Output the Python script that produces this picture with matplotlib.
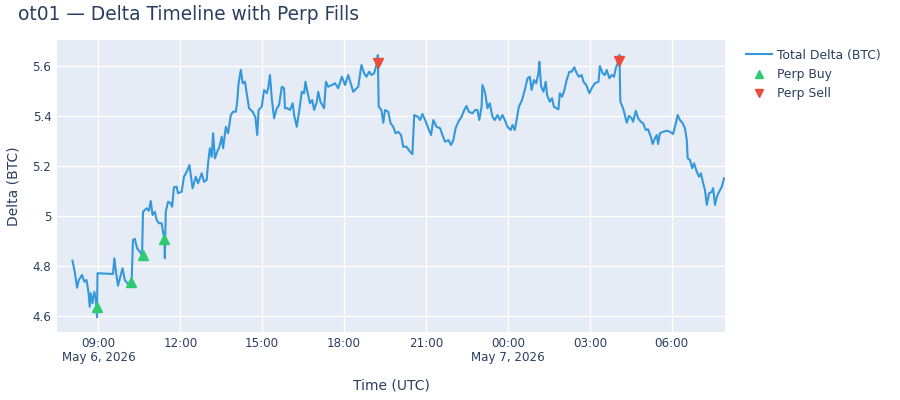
import pandas as pd
import matplotlib
matplotlib.use("Agg")
import matplotlib.pyplot as plt
import matplotlib.dates as mdates
from matplotlib.ticker import FuncFormatter

# minutes after 2026-05-06 08:00 UTC, and total delta (BTC)
delta_min = [3, 8, 13, 17, 24, 29, 34, 38, 41, 43, 47, 51, 54, 57, 58, 92, 95, 99, 103, 113,
             118, 125, 133, 136, 140, 145, 151, 156, 158, 166, 171, 175, 179, 184, 188, 193, 199, 202, 205, 206,
             208, 213, 219, 222, 226, 232, 235, 243, 248, 254, 260, 267, 274, 279, 287, 292, 298, 301,
             305, 309, 312, 316, 321, 326, 331, 334, 340, 345, 351, 356, 362, 365, 368, 373, 377, 382,
             386, 391, 399, 405, 409, 412, 419, 424, 430, 433, 437, 441, 446, 452, 457, 463, 468, 470,
             475, 481, 487, 490, 496, 501, 507, 512, 515, 520, 525, 530, 534, 540, 543, 548, 556, 560,
             565, 573, 580, 587, 595, 602, 609, 620, 631, 638, 644, 649, 655, 660, 666, 671, 674, 676,
             682, 686, 690, 697, 702, 708, 713, 719, 725, 730, 737, 745, 750, 754, 762, 767, 772, 778,
             784, 791, 796, 803, 811, 816, 822, 829, 835, 840, 845, 851, 858, 864, 869, 874, 882, 888,
             893, 897, 902, 904, 910, 915, 920, 926, 931, 937, 942, 948, 953, 959, 966, 970, 975, 979,
             984, 991, 997, 1003, 1008, 1012, 1017, 1022, 1027, 1029, 1033, 1038, 1043, 1046, 1052, 1057,
             1061, 1067, 1071, 1074, 1079, 1084, 1089, 1095, 1100, 1106, 1111, 1116, 1122, 1126, 1132,
             1139, 1144, 1151, 1159, 1162, 1168, 1173, 1177, 1183, 1188, 1193, 1197, 1201, 1205, 1207,
             1213, 1217, 1221, 1226, 1232, 1235, 1241, 1246, 1252, 1257, 1263, 1268, 1274, 1278, 1283,
             1287, 1290, 1294, 1301, 1309, 1316, 1323, 1329, 1333, 1338, 1344, 1349, 1353, 1355, 1360,
             1365, 1369, 1375, 1380, 1384, 1389, 1393, 1397, 1402, 1408, 1411, 1415, 1419, 1424, 1430, 1435]
delta_btc = [4.821, 4.777, 4.713, 4.744, 4.764, 4.737, 4.744, 4.697, 4.637, 4.691, 4.651, 4.697, 4.671, 4.595, 4.771, 4.768, 4.831, 4.771, 4.721, 4.791,
             4.744, 4.728, 4.737, 4.904, 4.909, 4.871, 4.857, 4.844, 5.017, 5.031, 5.021, 5.060, 5.004, 5.017, 4.984, 4.971, 4.971, 4.937, 4.907, 4.831,
             5.017, 5.057, 5.051, 5.037, 5.115, 5.117, 5.091, 5.097, 5.157, 5.177, 5.204, 5.111, 5.157, 5.131, 5.171, 5.137, 5.144, 5.211,
             5.271, 5.237, 5.331, 5.231, 5.257, 5.277, 5.317, 5.271, 5.357, 5.331, 5.404, 5.417, 5.417, 5.457, 5.531, 5.584, 5.531, 5.537,
             5.491, 5.431, 5.417, 5.395, 5.324, 5.424, 5.437, 5.504, 5.491, 5.511, 5.564, 5.471, 5.391, 5.431, 5.444, 5.517, 5.511, 5.431,
             5.431, 5.424, 5.451, 5.404, 5.357, 5.417, 5.497, 5.491, 5.537, 5.491, 5.451, 5.464, 5.424, 5.457, 5.497, 5.457, 5.431, 5.537,
             5.517, 5.524, 5.531, 5.511, 5.557, 5.524, 5.564, 5.497, 5.517, 5.604, 5.571, 5.557, 5.577, 5.564, 5.571, 5.604, 5.644, 5.437,
             5.424, 5.373, 5.424, 5.417, 5.371, 5.357, 5.331, 5.337, 5.324, 5.277, 5.277, 5.257, 5.247, 5.404, 5.397, 5.384, 5.408, 5.384,
             5.355, 5.324, 5.384, 5.357, 5.351, 5.324, 5.297, 5.304, 5.284, 5.304, 5.351, 5.377, 5.397, 5.424, 5.440, 5.417, 5.411, 5.424,
             5.424, 5.384, 5.437, 5.524, 5.491, 5.431, 5.451, 5.397, 5.384, 5.404, 5.384, 5.404, 5.384, 5.357, 5.344, 5.364, 5.344, 5.384,
             5.437, 5.464, 5.504, 5.551, 5.557, 5.504, 5.544, 5.531, 5.571, 5.617, 5.517, 5.497, 5.537, 5.484, 5.457, 5.471,
             5.437, 5.431, 5.427, 5.491, 5.477, 5.504, 5.544, 5.577, 5.577, 5.595, 5.571, 5.557, 5.564, 5.537, 5.524,
             5.491, 5.511, 5.531, 5.537, 5.600, 5.571, 5.564, 5.584, 5.551, 5.564, 5.557, 5.591, 5.611, 5.644, 5.457,
             5.431, 5.404, 5.373, 5.400, 5.391, 5.377, 5.421, 5.391, 5.377, 5.371, 5.344, 5.347, 5.317, 5.288, 5.311,
             5.324, 5.288, 5.331, 5.337, 5.341, 5.337, 5.328, 5.371, 5.404, 5.384, 5.371, 5.351, 5.304, 5.231, 5.224,
             5.191, 5.211, 5.177, 5.157, 5.171, 5.131, 5.104, 5.044, 5.091, 5.097, 5.111, 5.044, 5.077, 5.097, 5.117, 5.151]

buy_min = [56, 132, 157, 205]
buy_delta = [4.635, 4.737, 4.843, 4.907]
sell_min = [675, 1205]
sell_delta = [5.611, 5.621]

base = pd.Timestamp("2026-05-06 08:00")
def to_time(mins):
    return base + pd.to_timedelta(mins, unit="m")

plt.rcParams["font.family"] = ["DejaVu Sans"]
text_col = "#2a3f5f"

fig = plt.figure(figsize=(9, 4), dpi=100)
ax = fig.add_axes([57 / 900, 1 - 332 / 400, 668 / 900, 292 / 400])
ax.set_facecolor("#E5ECF6")
for s in ax.spines.values():
    s.set_visible(False)
ax.grid(True, color="white", linewidth=1)
ax.set_axisbelow(True)

ax.plot(to_time(delta_min), delta_btc, color="#3498db", linewidth=1.5, label="Total Delta (BTC)", zorder=2)
ax.plot(to_time(buy_min), buy_delta, linestyle="none", marker="^", markersize=7,
        color="#2ecc71", label="Perp Buy", zorder=3)
ax.plot(to_time(sell_min), sell_delta, linestyle="none", marker="v", markersize=7,
        color="#e74c3c", label="Perp Sell", zorder=3)

ax.set_xlim(to_time(-31), to_time(1437))
ax.set_ylim(4.536, 5.704)
ax.set_yticks([4.6, 4.8, 5.0, 5.2, 5.4, 5.6])
ax.yaxis.set_major_formatter(FuncFormatter(lambda v, p: f"{v:g}"))

ax.xaxis.set_major_locator(mdates.HourLocator(byhour=range(0, 24, 3)))
def fmt_time(x, pos):
    d = mdates.num2date(x)
    lab = d.strftime("%H:%M")
    if pos == 0 or d.hour == 0:
        lab += "\n" + d.strftime("%b ") + str(d.day) + d.strftime(", %Y")
    return lab
ax.xaxis.set_major_formatter(FuncFormatter(fmt_time))

ax.tick_params(length=0, labelsize=8.6, colors=text_col)
ax.tick_params(axis="x", pad=3.5)
ax.tick_params(axis="y", pad=4)
for lab in ax.get_xticklabels():
    lab.set_linespacing(1.15)

ax.set_xlabel("Time (UTC)", fontsize=10, color=text_col, labelpad=10)
ax.set_ylabel("Delta (BTC)", fontsize=10, color=text_col, labelpad=9)
fig.text(18 / 900, 1 - 14 / 400, "ot01 — Delta Timeline with Perp Fills", fontsize=13.4,
         color=text_col, va="center", ha="left")

leg = ax.legend(loc="upper left", bbox_to_anchor=(1.018, 1.0), frameon=False, fontsize=8.9,
                labelcolor=text_col, handlelength=2.1, handletextpad=0.45, labelspacing=0.5,
                borderaxespad=0.3, markerscale=0.8)

fig.savefig("out.png", dpi=100)
